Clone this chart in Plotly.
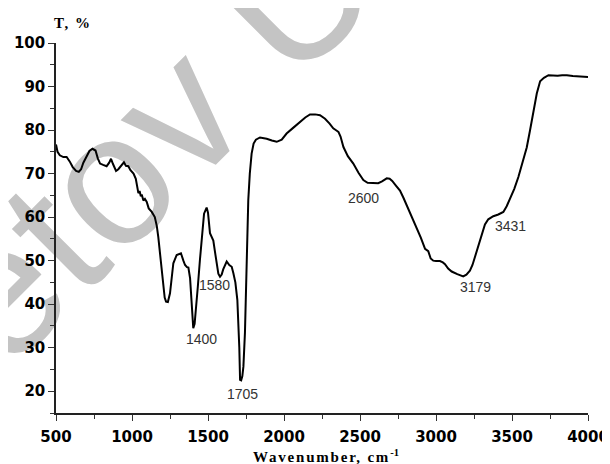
import plotly.graph_objects as go

# Spectrum
wavenumber = [500, 510, 525, 548, 570, 590, 610, 632, 650, 665, 680, 700, 720, 740, 760, 775, 790, 810, 833, 850,
              862, 875, 895, 910, 921, 935, 947, 960, 976, 990, 1010, 1025, 1035, 1042, 1050, 1058, 1064, 1075, 1085, 1097,
              1110, 1130, 1150, 1163, 1173, 1185, 1195, 1206, 1215, 1224, 1236, 1250, 1262, 1272, 1294, 1310, 1322, 1338, 1349, 1362,
              1371, 1382, 1393, 1403, 1412, 1421, 1433, 1447, 1460, 1474, 1491, 1500, 1513, 1525, 1535, 1546, 1557, 1568, 1579, 1590,
              1600, 1612, 1623, 1640, 1656, 1667, 1680, 1693, 1700, 1706, 1711, 1718, 1726, 1733, 1743, 1755, 1765, 1775, 1787, 1800,
              1815, 1842, 1865, 1886, 1920, 1952, 1985, 2017, 2060, 2105, 2140, 2171, 2205, 2237, 2270, 2300, 2324, 2345, 2358, 2372,
              2391, 2420, 2456, 2490, 2522, 2550, 2588, 2620, 2645, 2676, 2695, 2712, 2735, 2763, 2785, 2807, 2840, 2873, 2900, 2928,
              2949, 2965, 2982, 3000, 3026, 3045, 3059, 3080, 3103, 3140, 3179, 3200, 3223, 3240, 3256, 3278, 3300, 3322, 3344, 3377,
              3410, 3443, 3465, 3487, 3515, 3542, 3570, 3597, 3619, 3640, 3663, 3685, 3710, 3740, 3770, 3800, 3830, 3861, 3900, 3930,
              3970, 4000]
transmittance = [76.7, 75.0, 74.2, 73.8, 73.8, 72.8, 71.5, 70.6, 70.4, 71.0, 72.5, 74.0, 75.2, 75.7, 75.3, 73.5, 72.3, 72.0, 71.7, 72.5,
                 73.4, 72.2, 70.6, 71.0, 71.5, 72.3, 72.6, 71.8, 71.7, 70.8, 70.0, 68.8, 67.0, 65.5, 66.0, 64.8, 65.2, 63.8, 64.2, 63.5,
                 62.0, 61.2, 60.0, 58.0, 55.4, 51.5, 48.5, 43.5, 41.5, 40.6, 40.5, 42.5, 46.0, 49.4, 51.3, 51.5, 51.7, 50.0, 49.0, 48.5,
                 48.4, 46.0, 41.0, 34.5, 35.5, 38.7, 44.0, 50.2, 55.5, 60.8, 62.2, 61.0, 56.3, 55.2, 54.6, 52.0, 49.4, 47.0, 46.3, 46.8,
                 48.0, 49.0, 49.8, 49.0, 48.6, 47.1, 45.0, 41.0, 36.0, 30.0, 22.6, 22.5, 23.5, 25.7, 33.4, 48.6, 63.9, 70.0, 74.6, 76.9,
                 77.8, 78.3, 78.2, 78.0, 77.6, 77.3, 77.8, 79.2, 80.5, 81.9, 82.9, 83.6, 83.6, 83.4, 82.6, 81.5, 80.4, 79.9, 79.6, 78.5,
                 76.1, 74.0, 72.3, 70.2, 68.5, 67.9, 67.9, 67.8, 68.2, 68.9, 68.8, 68.3, 67.3, 66.1, 64.5, 62.7, 60.3, 57.7, 55.3, 52.7,
                 52.2, 50.5, 50.0, 49.9, 49.9, 49.6, 49.2, 48.2, 47.5, 46.9, 46.4, 46.8, 47.7, 49.0, 50.8, 53.7, 56.2, 58.3, 59.5, 60.2,
                 60.6, 61.2, 62.5, 64.2, 66.5, 69.2, 72.5, 76.0, 80.0, 84.5, 88.4, 91.2, 92.0, 92.6, 92.5, 92.5, 92.6, 92.6, 92.4, 92.3,
                 92.3, 92.2]

# Peak labels
peak_labels = ["1400", "1580", "1705", "2600", "3179", "3431"]
peak_label_x = [1459, 1546, 1727, 2520, 3263, 3487]
peak_label_y = [32.0, 44.4, 19.4, 64.5, 43.9, 58.0]

x_ticks = [500, 1000, 1500, 2000, 2500, 3000, 3500, 4000]
y_ticks = [20, 30, 40, 50, 60, 70, 80, 90, 100]

# page body has an 8px margin, so the figure is drawn 8px in from the window edge
OFF = 8
W, H = 602, 456
ml, mr, mt, mb = 48, 22, 35, 51
pw, ph = W - ml - mr, H - mt - mb


def px(sx):
    return (sx - OFF - ml) / pw


def py(sy):
    return (H - mb - (sy - OFF)) / ph


fig = go.Figure()
fig.add_trace(go.Scatter(x=wavenumber, y=transmittance, mode="lines",
                         line=dict(color="black", width=2), hoverinfo="skip", showlegend=False))

tickfont = dict(family="DejaVu Sans", size=15, color="black", weight="bold")
fig.update_xaxes(range=[500, 4000], tickvals=x_ticks, ticks="outside", ticklen=6, tickwidth=1,
                 tickcolor="#333", showline=True, linecolor="#222", linewidth=1.5, showgrid=False,
                 zeroline=False, tickfont=tickfont, automargin=False, ticklabelstandoff=3,
                 minor=dict(dtick=250, tick0=500, ticks="outside", ticklen=4, tickcolor="#333", showgrid=False))
fig.update_yaxes(range=[15, 100], tickvals=y_ticks, ticks="outside", ticklen=6, tickwidth=1,
                 tickcolor="#333", showline=True, linecolor="#222", linewidth=1.5, showgrid=False,
                 zeroline=False, tickfont=tickfont, automargin=False,
                 minor=dict(dtick=5, tick0=15, ticks="outside", ticklen=4, tickcolor="#333", showgrid=False))

for t, x, y in zip(peak_labels, peak_label_x, peak_label_y):
    fig.add_annotation(x=x, y=y, xref="x", yref="y", text=t, showarrow=False,
                       xanchor="center", yanchor="middle",
                       font=dict(family="Liberation Sans", size=14, color="#333"))

fig.add_annotation(x=px(72), y=py(23), xref="paper", yref="paper", showarrow=False,
                   xanchor="center", yanchor="middle",
                   text='<span style="letter-spacing:1.5px">T, %</span>',
                   font=dict(family="Liberation Serif", size=15, color="black", weight="bold"))
fig.add_annotation(x=px(326), y=py(456), xref="paper", yref="paper", showarrow=False,
                   xanchor="center", yanchor="middle",
                   text='<span style="letter-spacing:1.8px">Wavenumber, cm</span><sup>-1</sup>',
                   font=dict(family="Liberation Serif", size=15, color="black", weight="bold"))

# watermark behind the curve
cx, cy = px(139), py(125)
fig.add_shape(type="rect", xref="paper", yref="paper", x0=cx - 0.001, x1=cx + 0.001,
              y0=cy - 0.001, y1=cy + 0.001, layer="below", line=dict(width=0),
              fillcolor="rgba(0,0,0,0)",
              label=dict(text="etov U", textangle=-45, textposition="middle center",
                         font=dict(family="Liberation Sans", size=187, color="#c4c4c4")))

fig.update_layout(width=W, height=H, margin=dict(l=ml, r=mr, t=mt, b=mb, autoexpand=False),
                  plot_bgcolor="white", paper_bgcolor="white", showlegend=False)

fig.write_html("out.html")
